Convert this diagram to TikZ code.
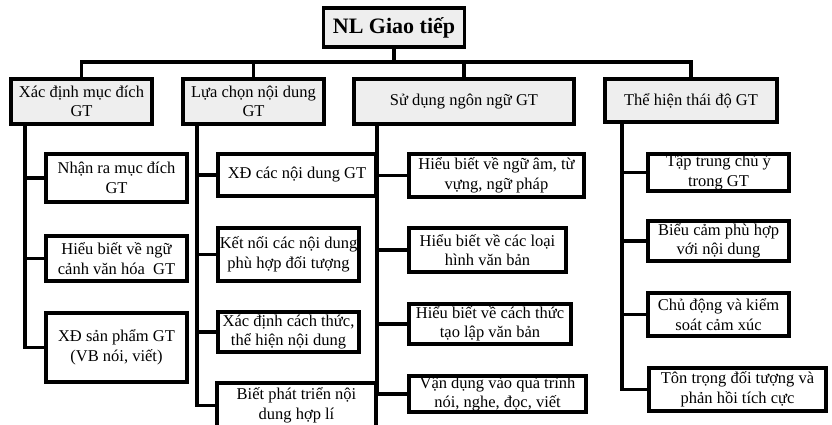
\documentclass[tikz,border=0pt]{standalone}
\usepackage{fontspec}
\setmainfont{Liberation Serif}
\usetikzlibrary{backgrounds}
\begin{document}
\begin{tikzpicture}[x=1pt,y=-1pt,
  box/.style={draw, line width=3.4pt, align=center, inner sep=0pt,
    font=\fontsize{16.5}{19.5}\selectfont},
  head/.style={box, fill=gray!13},
  leaf/.style={box, fill=white},
  link/.style={line width=3.4pt}]
\useasboundingbox (0,0) rectangle (832,425);
\clip (0,0) rectangle (832,425);

% goc
\node [head, minimum width=141, minimum height=39, font=\fontsize{22}{24}\bfseries] (root) at (394,27.5) {NL Giao tiếp};

% nhanh cap 1
\node [head, minimum width=141, minimum height=45] (b1) at (81.5,101.5) {Xác định mục đích\\GT};
\node [head, minimum width=141, minimum height=45] (b2) at (253.5,101.5) {Lựa chọn nội dung\\GT};
\node [head, minimum width=220, minimum height=45] (b3) at (464,101.5) {Sử dụng ngôn ngữ GT};
\node [head, minimum width=172, minimum height=43] (b4) at (691,100.5) {Thể hiện thái độ GT};

% cot 1
\node [leaf, minimum width=141, minimum height=48] (c11) at (116.5,178) {Nhận ra mục đích\\GT};
\node [leaf, minimum width=141, minimum height=45] (c12) at (116.5,258.5) {Hiểu biết về ngữ\\cảnh văn hóa\ \ GT};
\node [leaf, minimum width=141, minimum height=69] (c13) at (116.5,347.5) {XĐ sản phẩm GT\\(VB nói, viết)};

% cot 2
\node [leaf, minimum width=158, minimum height=42] (c21) at (297,175) {XĐ các nội dung GT};
\node [leaf, minimum width=141, minimum height=53] (c22) at (288.5,254.5) {Kết nối các nội dung\\phù hợp đối tượng};
\node [leaf, minimum width=141, minimum height=40] (c23) at (288.5,332) {Xác định cách thức,\\thể hiện nội dung};
\node [leaf, minimum width=159, minimum height=45] (c24) at (296.5,405.5) {Biết phát triển nội\\dung hợp lí};

% cot 3
\node [leaf, minimum width=175, minimum height=43] (d1) at (496.5,175.5) {Hiểu biết về ngữ âm, từ\\vựng, ngữ pháp};
\node [leaf, minimum width=157, minimum height=44] (d2) at (487.5,250) {Hiểu biết về các loại\\hình văn bản};
\node [leaf, minimum width=162, minimum height=40] (d3) at (490,324) {Hiểu biết về cách thức\\tạo lập văn bản};
\node [leaf, minimum width=177, minimum height=36] (d4) at (497.5,394) {Vận dụng vào quá trình\\nói, nghe, đọc, viết};

% cot 4
\node [leaf, minimum width=141, minimum height=37] (e1) at (718.5,172.5) {Tập trung chú ý\\trong GT};
\node [leaf, minimum width=141, minimum height=40] (e2) at (718.5,241) {Biểu cảm phù hợp\\với nội dung};
\node [leaf, minimum width=141, minimum height=43] (e3) at (718.5,314.5) {Chủ động và kiểm\\soát cảm xúc};
\node [leaf, minimum width=177, minimum height=43] (e4) at (737.5,389.5) {Tôn trọng đối tượng và\\phản hồi tích cực};

% duong noi
\begin{pgfonlayer}{background}
\fill[white] (0,0) rectangle (832,425);
\coordinate (bus) at (394,62);
\foreach \b in {b1,b2,b3,b4}
  \draw [link] (root.south) -- (bus) -| (\b.north);
\coordinate (s1) at (25,123);
\coordinate (s2) at (197,123);
\coordinate (s3) at (377,123);
\coordinate (s4) at (622,121);
\foreach \c in {c11,c12,c13}
  \draw [link] (s1) |- (\c.west);
\foreach \c in {c21,c22,c23,c24}
  \draw [link] (s2) |- (\c.west);
\foreach \c in {d1,d2,d3,d4}
  \draw [link] (s3) |- (\c.west);
\foreach \c in {e1,e2,e3,e4}
  \draw [link] (s4) |- (\c.west);
\end{pgfonlayer}

\end{tikzpicture}
\end{document}
